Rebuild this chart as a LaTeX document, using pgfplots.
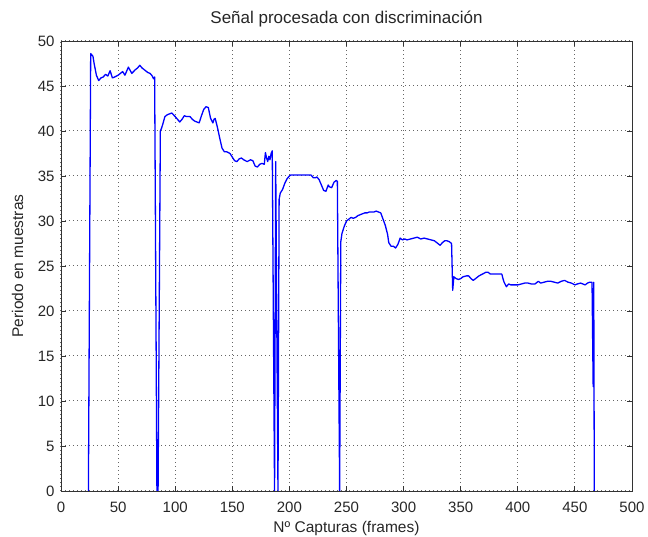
\documentclass[border=0pt]{standalone}
\usepackage{pgfplots}
\pgfplotsset{compat=1.18}
\usepackage{fontspec}
\setmainfont{Liberation Sans}
\begin{document}
\begin{tikzpicture}
\path[use as bounding box] (-61pt,-46pt) rectangle (587pt,491pt);
\begin{axis}[
  at={(0,0)}, anchor=south west,
  scale only axis, width=571pt, height=450pt,
  xmin=0, xmax=500, ymin=0, ymax=50,
  xtick={0,50,...,500}, ytick={0,5,...,50},
  /pgf/number format/assume math mode=true,
  tick label style={font=\fontsize{15}{18}\selectfont, text=black!85},
  xticklabel style={anchor=base, yshift=-22pt},
  yticklabel style={xshift=-3pt},
  tick align=inside, major tick length=5pt,
  tick style={black!80, line width=0.9pt},
  axis line style={black!80, line width=0.9pt},
  grid=major,
  major grid style={black!60, line width=1pt, dash pattern=on 1pt off 3pt},
  title={Señal procesada con discriminación},
  every axis title/.style={at={(axis description cs:0.5,1)}, anchor=base, yshift=17pt, font=\fontsize{17}{20}\selectfont, text=black!85},
  xlabel={Nº Capturas (frames)},
  every axis x label/.style={at={(axis description cs:0.5,0)}, anchor=base, yshift=-42pt, font=\fontsize{15.5}{18}\selectfont, text=black!85},
  ylabel={Periodo en muestras},
  every axis y label/.style={at={(axis description cs:-0.0665,0.5)}, rotate=90, anchor=base, font=\fontsize{15.5}{18}\selectfont, text=black!85},
]
\addplot[color={rgb,255:red,0;green,0;blue,255}, line width=1.3pt, line join=round] coordinates {
(24,0) (25,24.3) (26,48.6) (28,48.3) (29,47.5) (31,46.2) (33,45.6) (35,45.9)
(37,46.0) (39,46.3) (41,46.1) (43,46.7) (45,45.9) (47,46.0) (50,46.2) (52,46.4)
(54,46.6) (56,46.2) (59,47.1) (62,46.4) (65,46.8) (67,47.0) (69,47.3) (71,47.0)
(73,46.8) (76,46.5) (78,46.4) (80,46.1) (81,45.8) (82,46.0) (83,22.9) (84,0)
(85,0) (86,19.9) (87,40.0) (88,40.3) (89,40.7) (91,41.6) (93,41.8) (95,41.9)
(97,42.0) (100,41.6) (102,41.3) (104,41.0) (106,41.3) (108,41.7) (110,41.6) (113,41.6)
(115,41.3) (117,41.1) (119,41.0) (121,40.9) (123,41.7) (125,42.4) (127,42.7) (129,42.6)
(130,42.0) (131,41.4) (133,40.9) (134,41.3) (135,41.4) (137,40.4) (139,39.2) (141,38.1)
(143,37.7) (145,37.7) (148,37.5) (150,37.1) (152,36.7) (154,36.6) (156,36.9) (158,37.0)
(160,36.8) (163,36.6) (166,36.8) (168,36.7) (170,36.1) (172,36.0) (174,36.3) (176,36.4)
(178,36.3) (179,37.6) (180,37.0) (181,36.6) (182,37.2) (183,36.8) (184,37.5) (185,37.8)
(186,18.8) (187,0) (188,36.6) (189,18.0) (190,0) (191,32.4) (192,33.1) (194,33.5)
(196,34.2) (198,34.7) (200,35.0) (201,35.1) (205,35.1) (210,35.1) (215,35.1) (219,35.1)
(221,34.8) (223,34.8) (224,34.9) (226,34.6) (228,34.0) (230,33.4) (232,33.3) (234,34.0)
(235,33.8) (237,33.7) (239,34.3) (241,34.5) (242,34.4) (243,17.1) (244,0) (245,27.7)
(246,28.6) (248,29.4) (250,30.0) (252,30.2) (254,30.4) (256,30.3) (258,30.4) (260,30.6)
(262,30.7) (264,30.8) (266,30.9) (268,30.9) (270,31.0) (272,31.0) (274,31.0) (276,31.1)
(278,31.0) (280,30.9) (282,30.2) (284,29.5) (286,28.5) (287,27.6) (289,27.2) (291,27.2)
(293,27.0) (295,27.4) (297,28.1) (299,27.9) (301,28.0) (303,27.9) (306,28.0) (309,28.1)
(312,28.2) (315,28.0) (318,28.1) (321,28.0) (324,27.9) (327,27.8) (330,27.5) (332,27.3)
(334,27.6) (336,27.8) (338,27.8) (340,27.7) (342,27.5) (343,22.3) (344,23.8) (346,23.6)
(348,23.5) (350,23.6) (352,23.8) (355,23.9) (357,23.9) (359,23.6) (361,23.4) (363,23.6)
(366,23.9) (369,24.1) (372,24.3) (374,24.3) (376,24.1) (378,24.1) (382,24.1) (386,24.1)
(387,23.6) (388,23.2) (390,22.7) (392,23.0) (394,22.9) (397,22.9) (400,22.9) (403,23.0)
(406,23.1) (409,23.1) (412,23.0) (415,23.0) (418,23.3) (420,23.1) (423,23.2) (426,23.3)
(429,23.3) (432,23.2) (435,23.1) (438,23.3) (441,23.4) (444,23.2) (447,23.1) (450,22.9)
(452,23.0) (455,23.1) (457,23.0) (459,22.9) (461,23.1) (463,23.2) (465,23.2) (466,11.6)
(466.5,23.2) (467,0)
};
\end{axis}
\end{tikzpicture}
\end{document}
